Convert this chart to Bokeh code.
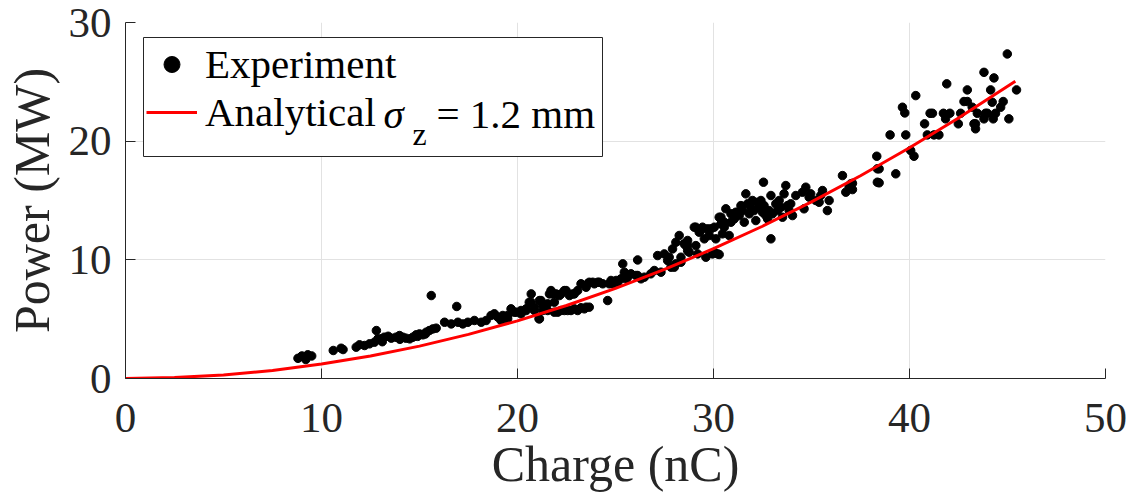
from bokeh.plotting import figure
from bokeh.models import (Range1d, FixedTicker, Legend, LegendItem, Label, ColumnDataSource,
                          BoxAnnotation)
from bokeh.embed import file_html
from bokeh.resources import INLINE

# ---- data ----
charge = [
    8.8, 9.0, 9.3, 9.5, 9.2, 10.6, 11.0, 11.1,
    11.77, 11.94, 12.2, 12.45, 12.7, 12.8, 12.88, 13.05, 13.2, 13.4, 13.56, 13.8,
    13.98, 14.15, 14.3, 14.5, 14.66, 14.83, 15.0, 15.17, 15.34, 15.5, 15.68, 15.85,
    15.6, 16.9, 13.1, 14.0, 14.9, 15.3,
    16.28, 16.62, 16.96, 17.21, 17.47, 17.8, 18.15, 18.4, 18.65, 18.82, 19.0, 19.25,
    19.5, 19.67, 19.93, 20.18, 20.44, 20.6, 20.7, 20.86, 21.12, 21.29, 21.54, 21.63,
    21.88, 21.97, 22.22, 22.48, 22.65, 22.9, 23.07, 23.24, 23.5, 23.66,
    22.05, 22.39, 22.73, 23.07, 23.41, 23.66, 21.1, 24.6,
    19.16, 19.5, 19.84, 20.18, 20.44, 20.86, 21.12, 21.29, 21.54, 21.88, 22.22, 22.56,
    22.9, 23.24, 23.5,
    20.69, 21.2, 21.71, 21.8, 22.14, 22.39, 22.82, 23.58, 23.92, 24.17, 24.68, 24.77,
    25.03, 25.28, 25.37, 25.62, 26.13, 26.47, 27.15, 27.49, 27.66, 28.0, 28.08, 28.25,
    28.34, 28.59, 28.68, 29.1, 29.19, 29.27,
    23.84, 24.09, 24.35, 24.86, 25.11, 25.45, 25.54, 25.79, 26.04, 26.3, 26.8, 26.98,
    27.32, 27.83, 28.08, 28.34, 29.61, 29.95, 30.21,
    26.13, 27.74, 27.91, 28.68, 28.68, 29.1, 29.44, 29.53, 29.78, 29.87, 30.04, 30.12,
    30.29, 30.38, 30.46, 30.63, 30.8, 31.06, 31.23,
    28.5, 28.76, 29.02, 29.36, 29.7, 30.04, 30.29, 30.55, 30.89,
    30.38, 30.55, 30.89, 31.14, 31.31, 31.4, 31.48, 31.57, 31.65, 31.74, 31.82, 31.91,
    31.99, 32.07, 32.16, 32.25, 32.33, 32.42, 32.5, 32.58, 32.67, 32.76, 32.84, 32.93,
    32.93, 33.01, 33.18, 33.27, 33.35, 33.44, 33.52, 33.6, 33.69, 33.78, 33.86, 33.94,
    34.03, 34.2, 34.54, 34.62, 34.71, 34.88, 34.96, 35.22, 35.39, 35.47, 35.56, 35.81,
    35.9, 36.58, 36.75, 36.92, 37.0, 37.09, 37.09, 38.36, 38.36, 32.55,
    38.33, 38.45, 38.45, 39.3, 39.01, 39.81, 39.64, 39.76, 40.32, 40.06, 40.23, 40.77,
    40.91, 41.17, 41.25, 41.5, 41.73, 41.9, 41.84, 42.06, 42.49, 42.61, 42.78, 42.95,
    42.95, 43.2, 43.29, 43.37, 43.46, 43.8, 43.8, 43.97, 44.14, 44.22, 44.31, 44.27,
    44.65, 44.78, 44.99, 45.07, 45.46, 41.05, 43.37, 43.88, 44.39,
]
power = [
    1.7, 1.9, 2.0, 1.9, 1.6, 2.36, 2.55, 2.44,
    2.64, 2.84, 2.78, 2.92, 3.06, 4.04, 3.34, 3.34, 3.48, 3.56, 3.4, 3.48,
    3.62, 3.48, 3.4, 3.34, 3.48, 3.68, 3.76, 3.68, 3.9, 4.04, 4.18, 4.24,
    6.99, 6.07, 3.1, 3.3, 3.55, 3.75,
    4.74, 4.6, 4.74, 4.6, 4.74, 4.89, 4.74, 4.89, 5.31, 5.45, 5.17, 5.31,
    5.31, 5.87, 5.59, 5.73, 5.87, 6.43, 7.13, 5.73, 6.57, 6.15, 6.29, 7.13,
    6.43, 7.13, 7.13, 7.41, 6.99, 7.13, 7.41, 7.98, 7.69, 8.11,
    5.59, 5.73, 5.73, 5.73, 5.87, 6.01, 5.03, 6.57,
    4.89, 5.03, 5.59, 5.45, 5.73, 6.01, 5.03, 5.73, 5.73, 5.59, 5.73, 5.73,
    5.87, 5.96, 6.01,
    6.43, 6.57, 7.41, 7.13, 6.99, 7.41, 7.13, 7.98, 7.98, 8.11, 7.98, 8.26,
    8.26, 8.4, 9.66, 8.54, 8.68, 8.54, 10.36, 10.5, 9.94, 9.38, 11.48, 12.05,
    10.22, 11.2, 11.63, 11.2, 10.5, 12.33,
    8.11, 8.11, 7.98, 7.98, 8.11, 8.96, 8.4, 8.82, 8.68, 8.4, 8.82, 9.1,
    8.96, 9.38, 9.66, 9.8, 10.22, 10.5, 10.5,
    9.99, 10.22, 10.92, 11.2, 10.78, 12.75, 12.75, 11.77, 12.05, 12.61, 12.75, 11.77,
    13.59, 13.03, 12.19, 14.3, 12.05, 13.45, 14.01,
    11.35, 10.64, 12.75, 12.47, 12.61, 10.64, 10.45, 12.75, 13.17,
    13.59, 13.17, 13.88, 14.01, 13.73, 14.57, 14.15, 13.17, 15.56, 14.72, 13.88, 14.43,
    15.0, 14.15, 13.31, 14.85, 14.43, 15.0, 14.01, 14.57, 13.73, 13.45, 14.15, 15.42,
    11.77, 13.88, 14.72, 14.15, 15.0, 14.43, 13.59, 15.56, 16.26, 14.57, 14.15, 14.72,
    13.73, 15.42, 15.7, 14.3, 16.12, 15.28, 15.56, 15.0, 14.85, 15.42, 15.84, 14.15,
    15.0, 17.1, 15.7, 16.12, 16.4, 16.45, 15.92, 17.67, 16.54, 16.54,
    18.73, 17.67, 16.49, 17.25, 20.53, 20.53, 22.86, 22.38, 23.84, 19.21, 18.73, 21.46,
    20.53, 22.35, 20.53, 20.53, 22.35, 24.83, 21.88, 22.35, 21.46, 22.35, 23.34, 23.34,
    24.32, 22.86, 21.46, 21.04, 22.35, 25.8, 21.88, 22.35, 24.32, 23.28, 25.33, 21.88,
    22.86, 23.34, 27.35, 21.88, 24.32, 22.35, 21.46, 22.35, 22.35,
]

model_charge = [0, 2.5, 5, 7.5, 10, 12.5, 15, 17.5, 20, 22.5, 25, 27.5, 30, 32.5,
                35, 37.5, 40, 42.5, 45.4]
model_power = [0, 0.08, 0.30, 0.68, 1.22, 1.90, 2.73, 3.72, 4.86, 6.15, 7.59, 9.19,
               10.94, 12.83, 14.88, 17.09, 19.44, 21.95, 25.04]

x_ticks = [0, 10, 20, 30, 40, 50]
y_ticks = [0, 10, 20, 30]

FONT = "Liberation Serif"
AX = "#262626"

p = figure(width=1130, height=497, output_backend="svg", toolbar_location=None,
           x_range=Range1d(0, 50), y_range=Range1d(0, 30),
           min_border_left=124, min_border_right=25, min_border_top=22, min_border_bottom=119)
p.outline_line_color = None
p.background_fill_color = "white"
p.border_fill_color = "white"

for ax, ticks, lab in ((p.xaxis[0], x_ticks, "Charge (nC)"), (p.yaxis[0], y_ticks, "Power (MW)")):
    ax.ticker = FixedTicker(ticks=ticks)
    ax.axis_label = lab
    ax.axis_line_color = AX
    ax.axis_line_width = 1
    ax.major_tick_line_color = AX
    ax.major_tick_in = 10
    ax.major_tick_out = 0
    ax.minor_tick_line_color = None
    ax.major_label_text_font = FONT
    ax.major_label_text_font_size = "43px"
    ax.major_label_text_color = AX
    ax.axis_label_text_font = FONT
    ax.axis_label_text_font_size = "50px"
    ax.axis_label_text_font_style = "normal"
    ax.axis_label_text_color = AX

p.xaxis.major_label_standoff = 25
p.yaxis.major_label_standoff = 14
p.xaxis.axis_label_standoff = 1
p.yaxis.axis_label_standoff = 6

p.xgrid.ticker = FixedTicker(ticks=x_ticks)
p.ygrid.ticker = FixedTicker(ticks=y_ticks)
p.grid.grid_line_color = "#e2e2e2"
p.grid.grid_line_width = 1

src = ColumnDataSource(dict(x=charge, y=power))
sc = p.scatter("x", "y", source=src, size=8.5, fill_color="black", line_color="black")
ln = p.line(model_charge, model_power, line_color="#ff0000", line_width=3)

# legend frame
frame_box = BoxAnnotation(left=18, right=477, top=341, bottom=222,
                          left_units="screen", right_units="screen",
                          top_units="screen", bottom_units="screen",
                          fill_color="white", fill_alpha=1.0,
                          line_color=AX, line_width=1, line_alpha=1.0)
p.add_layout(frame_box)

legend = Legend(items=[LegendItem(label="Experiment", renderers=[sc]),
                       LegendItem(label="Analytical", renderers=[ln])],
                location=(21, 242))
legend.label_text_font = FONT
legend.label_text_font_size = "41px"
legend.label_text_color = "black"
legend.border_line_color = None
legend.background_fill_alpha = 0
legend.glyph_width = 51
legend.glyph_height = 40
legend.label_standoff = 8
legend.label_height = 46
legend.label_width = 370
legend.padding = 6
legend.spacing = 0
legend.margin = 0
p.add_layout(legend, "center")

sig = Label(x=258, y=265, x_units="screen", y_units="screen", text="σ",
            text_font=FONT, text_font_size="41px", text_font_style="italic",
            text_baseline="alphabetic", text_color="black", level="overlay")
zsub = Label(x=287, y=245, x_units="screen", y_units="screen", text="z",
             text_font=FONT, text_font_size="32px",
             text_baseline="alphabetic", text_color="black", level="overlay")
rest = Label(x=311, y=265, x_units="screen", y_units="screen", text="= 1.2 mm",
             text_font=FONT, text_font_size="41px",
             text_baseline="alphabetic", text_color="black", level="overlay")
for lb in (sig, zsub, rest):
    p.add_layout(lb)

open("out.html", "w").write(file_html(p, INLINE))
